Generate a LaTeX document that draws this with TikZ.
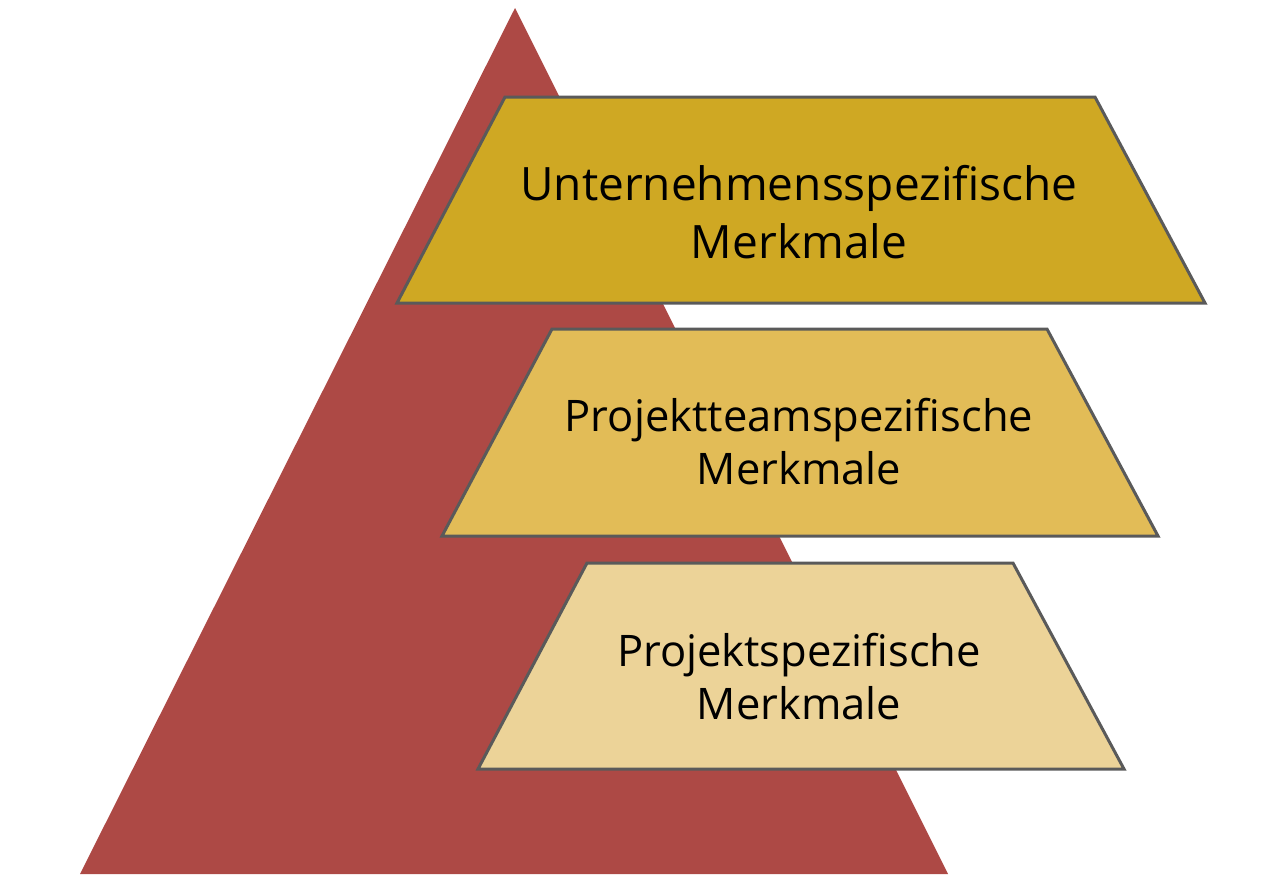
\documentclass[tikz,border=0pt]{standalone}
\usepackage{fontspec}
\setmainfont{Open Sans}
\definecolor{tri}{RGB}{173,73,69}
\definecolor{lvlA}{RGB}{207,168,35}
\definecolor{lvlB}{RGB}{226,188,87}
\definecolor{lvlC}{RGB}{236,211,152}
\definecolor{edge}{RGB}{90,90,90}
\tikzset{
  level/.style={draw=edge, line width=3pt, line join=miter},
  label/.style={align=center, text=black, inner sep=0pt},
}
\begin{document}
\begin{tikzpicture}[x=1pt,y=-1pt]
\useasboundingbox (0,0) rectangle (1282,879);
\fill[tri] (515,8) -- (948,874) -- (80,874) -- cycle;
\path[level, fill=lvlA] (505,97) -- (1095,97) -- (1205,303) -- (397,303) -- cycle;
\path[level, fill=lvlB] (552,329) -- (1047,329) -- (1158,536) -- (442,536) -- cycle;
\path[level, fill=lvlC] (587,563) -- (1013,563) -- (1124,769) -- (478,769) -- cycle;
\node[label, font=\fontsize{46}{58}\selectfont] (ta) at (799,212) {Unternehmensspezifische\\Merkmale};
\node[label, font=\fontsize{43.5}{53}\selectfont] (tb) at (799,442) {Projektteamspezifische\\Merkmale};
\node[label, font=\fontsize{43.5}{53}\selectfont] (tc) at (799,677) {Projektspezifische\\Merkmale};
\end{tikzpicture}
\end{document}
